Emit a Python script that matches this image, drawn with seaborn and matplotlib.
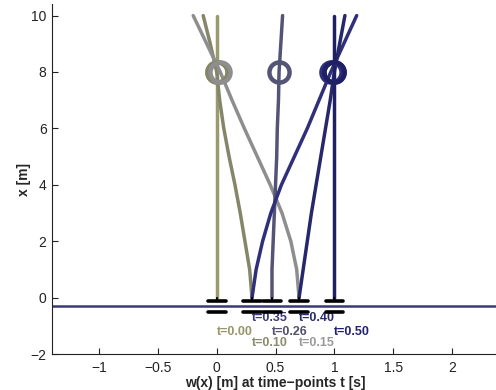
import matplotlib
matplotlib.use("Agg")
import pandas as pd
import seaborn as sns
import matplotlib.pyplot as plt

# heights along the beam [m] and the deflection w at each height, one list per time-point
heights = [0, 1, 2, 3, 4, 5, 6, 7, 8, 9, 10]
times = ["0.00", "0.10", "0.15", "0.26", "0.35", "0.40", "0.50"]
w_000 = [0.00, 0.00, 0.00, 0.00, 0.00, 0.00, 0.00, 0.00, 0.00, 0.00, 0.00]
w_010 = [0.30, 0.28, 0.24, 0.20, 0.155, 0.105, 0.06, 0.025, 0.00, -0.055, -0.115]
w_015 = [0.70, 0.68, 0.63, 0.555, 0.455, 0.345, 0.235, 0.13, 0.03, -0.085, -0.20]
w_026 = [0.47, 0.47, 0.48, 0.49, 0.50, 0.51, 0.515, 0.525, 0.53, 0.545, 0.56]
w_035 = [0.30, 0.335, 0.39, 0.46, 0.55, 0.66, 0.77, 0.87, 0.97, 1.08, 1.19]
w_040 = [0.70, 0.735, 0.77, 0.805, 0.845, 0.885, 0.925, 0.965, 1.00, 1.045, 1.09]
w_050 = [1.00, 1.00, 1.00, 1.00, 1.00, 1.00, 1.00, 1.00, 1.00, 1.00, 1.00]
curves = [w_000, w_010, w_015, w_026, w_035, w_040, w_050]
mass_height = 8

colors = ["#9a9a6c", "#85856a", "#8e8e8e", "#545476", "#30307a", "#27276c", "#1f1f66"]
label_colors = ["#96966a", "#8a8a6e", "#9a9a9a", "#505070", "#3a3a78", "#2a2a6e", "#222270"]
label_y = [-1.21, -1.62, -1.62, -1.21, -0.73, -0.73, -1.21]

rows = []
for t, w in zip(times, curves):
    for h, v in zip(heights, w):
        rows.append({"t": t, "x": h, "w": v})
df = pd.DataFrame(rows)

sns.set_style("ticks")
plt.rcParams["font.family"] = ["Liberation Sans", "DejaVu Sans"]

fig = plt.figure(figsize=(4.96, 3.90), dpi=100)
ax = fig.add_axes([0.105, 0.092, 0.901, 0.897])

sns.lineplot(data=df, x="w", y="x", hue="t", palette=dict(zip(times, colors)),
             sort=False, estimator=None, orient="y", linewidth=2.5, legend=False, ax=ax)

# masses at x = 8 m
for w, c in zip(curves, colors):
    ax.plot(w[heights.index(mass_height)], mass_height, "o", mfc="none", mec=c, ms=14.5, mew=3.2, zorder=3)

# ground line and supports
ax.axhline(-0.28, color="#3a3a72", lw=1.8, zorder=2)
bases = sorted(set(w[0] for w in curves))
for b in bases:
    ax.plot([b, b], [0, -0.13], color="k", lw=1.5, zorder=4)
    ax.plot([b - 0.075, b + 0.075], [-0.13, -0.13], color="k", lw=2.6, zorder=4)
    ax.plot([b - 0.075, b + 0.075], [-0.49, -0.49], color="k", lw=2.6, zorder=4)

for t, w, c, ly in zip(times, curves, label_colors, label_y):
    ax.text(w[0], ly, "t=" + t, color=c, fontsize=9, fontweight="bold", ha="left", va="center")

ax.set_xlim(-1.4, 2.4)
ax.set_ylim(-2, 10.4)
ax.set_xticks([-1, -0.5, 0, 0.5, 1, 1.5, 2])
ax.set_xticklabels(["\u22121", "\u22120.5", "0", "0.5", "1", "1.5", "2"])
ax.set_yticks([-2, 0, 2, 4, 6, 8, 10])
ax.tick_params(direction="in", length=4, width=0.8, labelsize=10, colors="#222222", pad=4)
ax.tick_params(axis="x", pad=5)
for s in ["left", "bottom"]:
    ax.spines[s].set_linewidth(0.8)
    ax.spines[s].set_color("#222222")
sns.despine(ax=ax)

ax.set_xlabel("w(x) [m] at time\u2212points t [s]", fontsize=10, fontweight="bold", labelpad=0.5)
ax.set_ylabel("x [m]", fontsize=10, fontweight="bold", labelpad=0)

fig.savefig("out.png", dpi=100)
